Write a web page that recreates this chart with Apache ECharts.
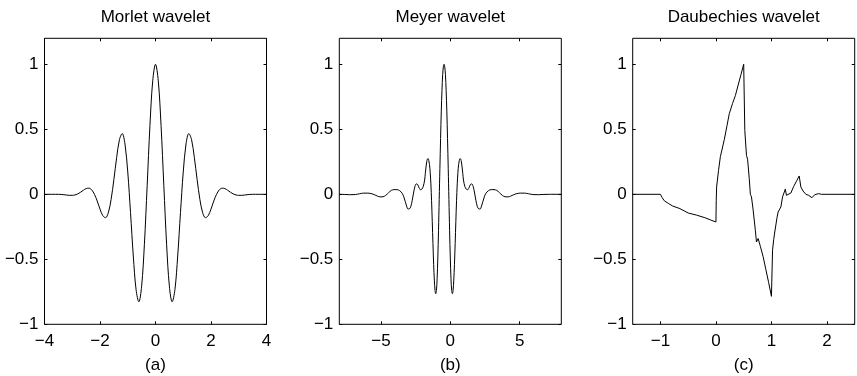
<!DOCTYPE html>
<html>
<head>
<meta charset="utf-8">
<script src="https://cdn.jsdelivr.net/npm/echarts@6/dist/echarts.min.js"></script>
<style>
html,body{margin:0;padding:0;background:#fff;}
#chart{width:857px;height:376px;}
</style>
</head>
<body>
<div id="chart"></div>
<script>
// ---------- data ----------
const titles = ['Morlet wavelet', 'Meyer wavelet', 'Daubechies wavelet'];
const subLabels = ['(a)', '(b)', '(c)'];
const yTicks = [-1, -0.5, 0, 0.5, 1];
const xTicksA = [-4, -2, 0, 2, 4];
const xTicksB = [-5, 0, 5];
const xTicksC = [-1, 0, 1, 2];

const morletX = [-4,-3.9,-3.8,-3.7,-3.6,-3.5,-3.4,-3.3,-3.2,-3.1,-3,-2.9,-2.8,-2.7,-2.6,-2.5,-2.4,-2.3,-2.2,-2.1,-2,
  -1.9,-1.8,-1.7,-1.6,-1.5,-1.4,-1.3,-1.2,-1.1,-1,-0.9,-0.8,-0.7,-0.6,-0.5,-0.4,-0.3,-0.2,-0.1,0,
  0.1,0.2,0.3,0.4,0.5,0.6,0.7,0.8,0.9,1,1.1,1.2,1.3,1.4,1.5,1.6,1.7,1.8,1.9,2,
  2.1,2.2,2.3,2.4,2.5,2.6,2.7,2.8,2.9,3,3.1,3.2,3.3,3.4,3.5,3.6,3.7,3.8,3.9,4];
const morletY = [0,0,0,0,0,0,-0.001,-0.003,-0.006,-0.008,-0.008,-0.005,0.003,0.016,0.031,0.044,0.047,0.034,0,-0.052,-0.114,
  -0.164,-0.18,-0.142,-0.04,0.113,0.283,0.42,0.467,0.387,0.172,-0.141,-0.475,-0.733,-0.827,-0.707,-0.384,0.068,0.53,0.873,1,
  0.873,0.53,0.068,-0.384,-0.707,-0.827,-0.733,-0.475,-0.141,0.172,0.387,0.467,0.42,0.283,0.113,-0.04,-0.142,-0.18,-0.164,-0.114,
  -0.052,0,0.034,0.047,0.044,0.031,0.016,0.003,-0.005,-0.008,-0.008,-0.006,-0.003,-0.001,0,0,0,0,0,0];

const meyerX = [-8,-7.65,-7.25,-6.85,-6.55,-6.25,-5.95,-5.65,-5.45,-5.25,-5.05,-4.85,-4.65,-4.45,-4.25,-4.05,-3.85,-3.65,
  -3.45,-3.35,-3.25,-3.15,-3.05,-2.95,-2.85,-2.75,-2.65,-2.55,-2.45,-2.35,-2.25,-2.15,-2.05,-1.95,-1.85,-1.8,-1.75,-1.7,-1.65,
  -1.6,-1.55,-1.5,-1.45,-1.4,-1.35,-1.3,-1.25,-1.2,-1.15,-1.1,-1.05,-1,-0.95,-0.9,-0.85,-0.8,-0.75,-0.7,-0.65,-0.6,-0.55,-0.5,
  -0.45,
  -0.4,-0.35,-0.3,-0.25,-0.2,-0.15,-0.1,-0.05,0,0.05,0.1,0.15,0.2,0.25,0.3,0.35,0.4,0.45,0.5,0.55,0.6,0.65,0.7,0.75,0.8,0.85,
  0.9,0.95,1.05,1.15,1.25,1.35,1.45,1.55,1.65,1.75,1.85,1.95,2.05,2.15,2.25,2.35,2.45,2.55,2.75,2.95,3.15,3.35,3.55,3.75,
  3.95,4.15,4.35,4.55,4.75,5.05,5.35,5.65,5.95,6.35,6.75,7.15,8];
const meyerY = [0,-0.001,-0.003,-0.002,0.004,0.009,0.009,0.004,-0.004,-0.014,-0.02,-0.019,-0.008,0.012,0.03,0.036,0.036,0.028,
  0.005,-0.02,-0.055,-0.09,-0.113,-0.112,-0.095,-0.05,0.01,0.06,0.08,0.075,0.05,0.035,0.04,0.06,0.11,0.16,0.21,0.25,0.27,
  0.275,0.26,0.23,0.17,0.08,-0.05,-0.21,-0.38,-0.54,-0.66,-0.74,-0.765,-0.74,-0.65,-0.49,-0.28,-0.04,0.2,0.43,0.64,0.8,0.92,0.98,
  1,
  0.98,0.92,0.8,0.64,0.43,0.2,-0.04,-0.28,-0.49,-0.65,-0.74,-0.765,-0.74,-0.66,-0.54,-0.38,-0.21,-0.05,0.08,0.17,0.23,0.26,0.275,0.27,0.25,0.21,
  0.16,0.11,0.06,0.04,0.035,0.05,0.075,0.08,0.06,0.01,-0.05,-0.095,-0.112,-0.113,-0.09,-0.055,-0.02,0.005,0.028,0.036,0.036,0.03,
  0.012,-0.008,-0.019,-0.02,-0.014,-0.004,0.004,0.009,0.009,0.004,-0.002,-0.003,-0.001,0,0];

const dbX = [-1.5,-1,-0.97,-0.93,-0.85,-0.78,-0.65,-0.5,-0.35,-0.2,-0.1,0,0.005,0.012,0.047,0.08,0.12,0.15,0.2,0.24,0.26,0.3,0.35,0.4,0.45,0.5,
  0.52,0.55,0.57,0.6,0.62,0.64,0.67,0.71,0.73,0.76,0.8,0.85,0.9,0.95,1,1.02,1.04,1.06,1.1,1.12,1.13,1.17,1.2,1.25,1.27,1.3,1.35,1.4,1.45,1.5,
  1.53,1.57,1.62,1.67,1.73,1.78,1.85,1.9,2,2.5];
const dbY = [0,0,-0.025,-0.05,-0.072,-0.09,-0.11,-0.144,-0.16,-0.18,-0.197,-0.213,-0.05,0.056,0.185,0.29,0.364,0.42,0.53,0.62,0.625,0.7,0.76,0.84,0.92,1,
  0.49,0.3,0.27,0.12,0,-0.02,-0.12,-0.277,-0.367,-0.34,-0.4,-0.48,-0.58,-0.68,-0.785,-0.43,-0.35,-0.29,-0.18,-0.136,-0.13,-0.097,-0.02,0.04,-0.008,0,0.01,0.06,0.1,0.141,
  0.056,0.025,0,-0.008,-0.026,-0.003,0.005,0,0,0];

// ---------- chart ----------
const FONT = '"Liberation Sans", Arial, Helvetica, sans-serif';
const FS = 17;
const grids = [
  {left: 44.5, top: 38.3, width: 222, height: 286},
  {left: 339.3, top: 38.3, width: 222, height: 286},
  {left: 632.7, top: 38.3, width: 222, height: 286}
];
const xRanges = [[-4, 4], [-8, 8], [-1.5, 2.5]];
const xTickSets = [xTicksA, xTicksB, xTicksC];
const seriesData = [
  morletX.map((x, i) => [x, morletY[i]]),
  meyerX.map((x, i) => [x, meyerY[i]]),
  dbX.map((x, i) => [x, dbY[i]])
];
const smoothFlags = [true, true, false];
const fmt = v => String(v).replace('-', '\u2212');

const xAxes = [], yAxes = [], series = [], graphics = [];
grids.forEach((g, i) => {
  const base = {
    type: 'value', gridIndex: i, splitLine: {show: false},
    axisLine: {show: false, onZero: false}
  };
  xAxes.push(Object.assign({}, base, {
    position: 'bottom', min: xRanges[i][0], max: xRanges[i][1],
    axisTick: {show: true, inside: true, length: 3, customValues: xTickSets[i], lineStyle: {color: '#000'}},
    axisLabel: {show: true, customValues: xTickSets[i], formatter: fmt, color: '#000', fontSize: FS, fontFamily: FONT, margin: 9},
    name: subLabels[i], nameLocation: 'middle', nameGap: 33,
    nameTextStyle: {color: '#000', fontSize: FS, fontFamily: FONT}
  }));
  xAxes.push(Object.assign({}, base, {
    position: 'top', min: xRanges[i][0], max: xRanges[i][1],
    axisTick: {show: true, inside: true, length: 3, customValues: xTickSets[i], lineStyle: {color: '#000'}},
    axisLabel: {show: false}
  }));
  yAxes.push(Object.assign({}, base, {
    position: 'left', min: -1, max: 1.2,
    axisTick: {show: true, inside: true, length: 3, customValues: yTicks, lineStyle: {color: '#000'}},
    axisLabel: {show: true, customValues: yTicks, formatter: fmt, color: '#000', fontSize: FS, fontFamily: FONT, margin: 6}
  }));
  yAxes.push(Object.assign({}, base, {
    position: 'right', min: -1, max: 1.2,
    axisTick: {show: true, inside: true, length: 3, customValues: yTicks, lineStyle: {color: '#000'}},
    axisLabel: {show: false}
  }));
  series.push({
    type: 'line', xAxisIndex: 2 * i, yAxisIndex: 2 * i,
    data: seriesData[i], showSymbol: false, smooth: smoothFlags[i] ? 0.35 : false,
    lineStyle: {color: '#000', width: 1}, animation: false, silent: true
  });
  graphics.push({
    type: 'text', x: g.left + g.width / 2, y: 17,
    style: {text: titles[i], fill: '#000', font: 'normal ' + FS + 'px ' + FONT, textAlign: 'center', textVerticalAlign: 'middle'}
  });
});

const chart = echarts.init(document.getElementById('chart'), null, {renderer: 'canvas'});
chart.setOption({
  animation: false,
  backgroundColor: '#fff',
  grid: grids.map(g => Object.assign({show: true, borderColor: '#000', borderWidth: 1, backgroundColor: 'transparent', containLabel: false, outerBoundsMode: 'none'}, g)),
  xAxis: xAxes,
  yAxis: yAxes,
  series: series,
  graphic: graphics
});
</script>
</body>
</html>
